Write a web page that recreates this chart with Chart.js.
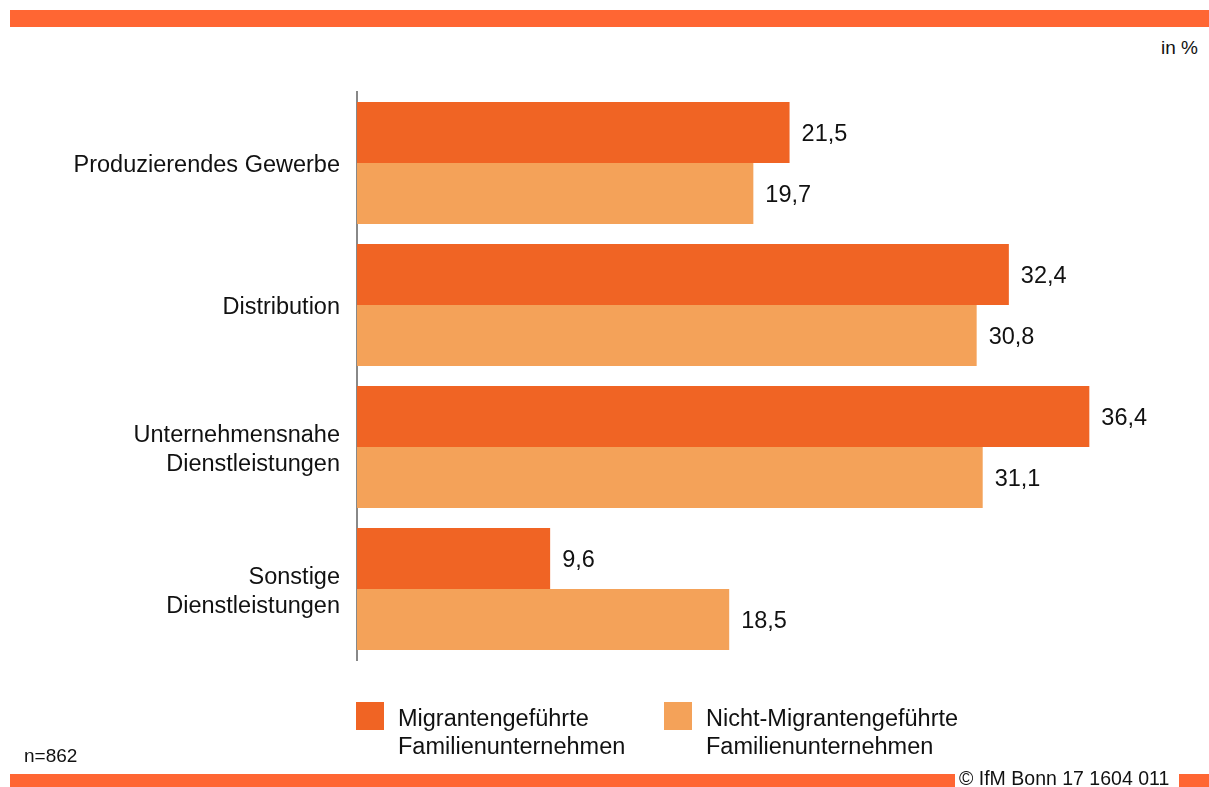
<!DOCTYPE html>
<html>
<head>
<meta charset="utf-8">
<script src="https://cdn.jsdelivr.net/npm/chart.js@4/dist/chart.umd.min.js"></script>
<style>
  html, body { margin: 0; padding: 0; background: #fff; }
  body { width: 1209px; height: 787px; position: relative; overflow: hidden; font-family: 'Liberation Sans', Arial, sans-serif; color: #111; }
  #c { position: absolute; left: 0; top: 0; }
  .bar { position: absolute; background: #FF6633; }
  .txt { position: absolute; white-space: nowrap; line-height: 1; }
</style>
</head>
<body>
<div class="bar" style="left:10px; top:10px; width:1199px; height:17px;"></div>
<div class="txt" style="right:11px; top:38px; font-size:19px;">in %</div>
<canvas id="c" width="1209" height="787"></canvas>
<div class="txt" style="left:24px; top:746px; font-size:19px;">n=862</div>
<div class="bar" style="left:10px; top:774px; width:945px; height:13px;"></div>
<div class="txt" style="left:959px; top:769px; font-size:19.5px;">© IfM Bonn 17 1604 011</div>
<div class="bar" style="left:1179px; top:774px; width:30px; height:13px;"></div>
<script>
const categories = [
  ["Produzierendes Gewerbe"],
  ["Distribution"],
  ["Unternehmensnahe", "Dienstleistungen"],
  ["Sonstige", "Dienstleistungen"]
];
const migrantValues = [21.5, 32.4, 36.4, 9.6];
const nonMigrantValues = [19.7, 30.8, 31.1, 18.5];
const seriesLabels = [
  ["Migrantengeführte", "Familienunternehmen"],
  ["Nicht-Migrantengeführte", "Familienunternehmen"]
];
const seriesColors = ["#F06424", "#F4A259"];

const FONT = "'Liberation Sans', Arial, sans-serif";
const FSIZE = 23.5;

const valueLabels = {
  id: 'valueLabels',
  afterDatasetsDraw(chart) {
    const ctx = chart.ctx;
    ctx.save();
    ctx.font = FSIZE + "px " + FONT;
    ctx.fillStyle = "#111";
    ctx.textAlign = "left";
    ctx.textBaseline = "middle";
    chart.data.datasets.forEach((ds, di) => {
      const meta = chart.getDatasetMeta(di);
      meta.data.forEach((bar, i) => {
        const v = ds.data[i];
        ctx.fillText(v.toFixed(1).replace('.', ','), bar.x + 12, bar.y + 2);
      });
    });
    ctx.restore();
  }
};

const customLegend = {
  id: 'customLegend',
  afterDraw(chart) {
    const ctx = chart.ctx;
    ctx.save();
    const startX = [356, 664];
    chart.data.datasets.forEach((ds, di) => {
      const x = startX[di];
      ctx.fillStyle = ds.backgroundColor;
      ctx.fillRect(x, 702, 28, 28);
      ctx.fillStyle = "#111";
      ctx.font = FSIZE + "px " + FONT;
      ctx.textAlign = "left";
      ctx.textBaseline = "middle";
      seriesLabels[di].forEach((line, li) => {
        ctx.fillText(line, x + 42, 720 + li * 28);
      });
    });
    ctx.restore();
  }
};

new Chart(document.getElementById('c'), {
  type: 'bar',
  data: {
    labels: categories,
    datasets: [
      { label: seriesLabels[0].join(' '), data: migrantValues, backgroundColor: seriesColors[0] },
      { label: seriesLabels[1].join(' '), data: nonMigrantValues, backgroundColor: seriesColors[1] }
    ]
  },
  options: {
    indexAxis: 'y',
    responsive: false,
    animation: false,
    devicePixelRatio: 1,
    layout: { padding: { top: 92, bottom: 127, left: 0, right: 7 } },
    datasets: { bar: { categoryPercentage: 0.859, barPercentage: 1.0, borderWidth: 0 } },
    plugins: { legend: { display: false }, tooltip: { enabled: false } },
    scales: {
      x: { display: false, min: 0, max: 42 },
      y: {
        grid: { display: false, drawTicks: false },
        border: { display: true, color: '#888888', width: 2 },
        ticks: {
          padding: 17,
          color: '#111',
          font: { family: FONT, size: FSIZE, lineHeight: 1.2 }
        },
        afterFit(scale) {
          scale.width = 357;
          if (!scale._shifted) {
            const orig = scale.drawLabels;
            scale.drawLabels = function (area) {
              const ctx = this.ctx;
              ctx.save();
              ctx.translate(0, 3);
              orig.call(this, area);
              ctx.restore();
            };
            scale._shifted = true;
          }
        }
      }
    }
  },
  plugins: [valueLabels, customLegend]
});
</script>
</body>
</html>
